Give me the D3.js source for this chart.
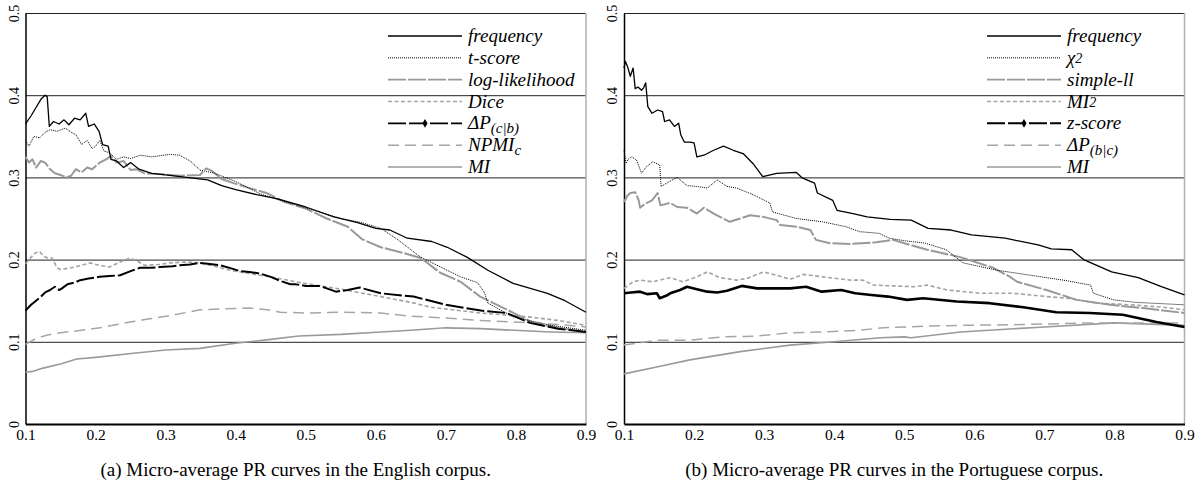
<!DOCTYPE html>
<html>
<head>
<meta charset="utf-8">
<script src="https://cdnjs.cloudflare.com/ajax/libs/d3/7.8.5/d3.min.js"></script>
<style>
  body { margin: 0; background: #fff; }
  svg { display: block; }
  text { font-family: "Liberation Serif", "Times New Roman", serif; fill: #000; }
</style>
</head>
<body>
<script>
// x tick values and y tick values
var recallTicks = [0.1, 0.2, 0.3, 0.4, 0.5, 0.6, 0.7, 0.8, 0.9];
var precisionTicks = [0, 0.1, 0.2, 0.3, 0.4, 0.5];

// (a) English corpus: [recall, precision]
var enFrequency = [[0.100,0.365],[0.108,0.375],[0.115,0.385],[0.122,0.395],[0.128,0.400],[0.131,0.398],[0.134,0.362],[0.140,0.368],[0.148,0.365],[0.155,0.370],[0.162,0.364],[0.170,0.372],[0.178,0.370],[0.186,0.378],[0.190,0.362],[0.198,0.365],[0.205,0.356],[0.210,0.340],[0.218,0.338],[0.222,0.322],[0.230,0.320],[0.240,0.312],[0.250,0.318],[0.262,0.310],[0.280,0.305],[0.300,0.303],[0.330,0.300],[0.360,0.297],[0.380,0.290],[0.400,0.285],[0.430,0.279],[0.460,0.274],[0.500,0.264],[0.540,0.252],[0.574,0.245],[0.600,0.238],[0.620,0.236],[0.645,0.226],[0.680,0.222],[0.702,0.215],[0.730,0.203],[0.760,0.187],[0.796,0.171],[0.845,0.159],[0.870,0.150],[0.900,0.136]];
var enTscore = [[0.100,0.345],[0.105,0.338],[0.112,0.350],[0.120,0.348],[0.128,0.355],[0.135,0.358],[0.145,0.356],[0.157,0.360],[0.165,0.355],[0.172,0.352],[0.180,0.340],[0.188,0.345],[0.195,0.335],[0.200,0.338],[0.206,0.345],[0.212,0.332],[0.220,0.330],[0.230,0.322],[0.240,0.325],[0.250,0.323],[0.264,0.327],[0.280,0.325],[0.306,0.328],[0.320,0.327],[0.335,0.320],[0.349,0.309],[0.370,0.305],[0.400,0.295],[0.435,0.280],[0.464,0.272],[0.500,0.263],[0.550,0.250],[0.580,0.245],[0.607,0.238],[0.630,0.225],[0.664,0.203],[0.690,0.192],[0.721,0.179],[0.745,0.172],[0.755,0.160],[0.760,0.147],[0.797,0.130],[0.850,0.120],[0.900,0.114]];
var enLogLik = [[0.100,0.325],[0.105,0.318],[0.110,0.322],[0.115,0.312],[0.122,0.320],[0.128,0.318],[0.135,0.310],[0.142,0.305],[0.150,0.303],[0.158,0.300],[0.165,0.302],[0.172,0.310],[0.180,0.306],[0.188,0.312],[0.195,0.310],[0.206,0.318],[0.215,0.322],[0.222,0.326],[0.230,0.318],[0.240,0.320],[0.250,0.309],[0.258,0.310],[0.270,0.305],[0.290,0.304],[0.320,0.302],[0.349,0.303],[0.358,0.311],[0.366,0.308],[0.380,0.298],[0.397,0.293],[0.420,0.287],[0.444,0.281],[0.470,0.270],[0.500,0.262],[0.530,0.250],[0.560,0.240],[0.580,0.225],[0.607,0.215],[0.640,0.208],[0.664,0.202],[0.692,0.184],[0.721,0.173],[0.749,0.155],[0.768,0.147],[0.797,0.135],[0.825,0.123],[0.860,0.117],[0.900,0.112]];
var enDice = [[0.100,0.195],[0.108,0.203],[0.114,0.208],[0.120,0.210],[0.126,0.204],[0.132,0.202],[0.138,0.202],[0.145,0.190],[0.150,0.188],[0.165,0.190],[0.180,0.193],[0.192,0.196],[0.205,0.193],[0.220,0.191],[0.235,0.197],[0.249,0.202],[0.260,0.198],[0.270,0.193],[0.290,0.194],[0.306,0.196],[0.330,0.197],[0.349,0.196],[0.370,0.192],[0.392,0.187],[0.420,0.183],[0.449,0.179],[0.492,0.172],[0.521,0.168],[0.550,0.164],[0.607,0.155],[0.650,0.148],[0.679,0.142],[0.750,0.135],[0.821,0.130],[0.860,0.126],[0.900,0.120]];
var enDeltaP = [[0.100,0.138],[0.108,0.145],[0.115,0.150],[0.122,0.155],[0.128,0.160],[0.135,0.163],[0.142,0.167],[0.148,0.163],[0.152,0.165],[0.160,0.170],[0.170,0.172],[0.178,0.175],[0.190,0.177],[0.206,0.179],[0.220,0.180],[0.235,0.181],[0.250,0.186],[0.263,0.190],[0.280,0.190],[0.292,0.191],[0.310,0.192],[0.320,0.193],[0.335,0.194],[0.349,0.196],[0.360,0.195],[0.378,0.193],[0.395,0.189],[0.406,0.186],[0.420,0.185],[0.435,0.183],[0.450,0.179],[0.464,0.174],[0.478,0.170],[0.485,0.170],[0.500,0.168],[0.520,0.168],[0.530,0.165],[0.543,0.161],[0.560,0.163],[0.577,0.166],[0.607,0.159],[0.654,0.155],[0.700,0.145],[0.750,0.138],[0.787,0.135],[0.820,0.123],[0.860,0.116],[0.900,0.112]];
var enNpmi = [[0.100,0.097],[0.115,0.104],[0.130,0.108],[0.150,0.111],[0.180,0.114],[0.206,0.117],[0.230,0.121],[0.249,0.124],[0.270,0.127],[0.292,0.130],[0.320,0.134],[0.349,0.139],[0.380,0.140],[0.420,0.141],[0.445,0.139],[0.464,0.136],[0.500,0.135],[0.550,0.136],[0.607,0.135],[0.650,0.131],[0.679,0.130],[0.750,0.126],[0.821,0.123],[0.860,0.121],[0.900,0.118]];
var enMi = [[0.100,0.063],[0.110,0.064],[0.125,0.068],[0.150,0.073],[0.173,0.079],[0.200,0.081],[0.254,0.086],[0.300,0.090],[0.349,0.092],[0.397,0.098],[0.450,0.103],[0.490,0.107],[0.550,0.109],[0.607,0.112],[0.650,0.114],[0.700,0.117],[0.750,0.116],[0.797,0.114],[0.850,0.112],[0.900,0.111]];

// (b) Portuguese corpus
var ptFrequency = [[0.100,0.433],[0.102,0.441],[0.105,0.435],[0.109,0.423],[0.113,0.433],[0.116,0.408],[0.120,0.410],[0.125,0.406],[0.128,0.409],[0.131,0.415],[0.134,0.386],[0.140,0.378],[0.148,0.382],[0.155,0.380],[0.158,0.368],[0.165,0.370],[0.172,0.362],[0.178,0.366],[0.181,0.352],[0.186,0.343],[0.194,0.343],[0.200,0.342],[0.204,0.325],[0.214,0.327],[0.228,0.333],[0.242,0.338],[0.256,0.333],[0.270,0.329],[0.284,0.317],[0.298,0.301],[0.318,0.305],[0.346,0.306],[0.355,0.299],[0.372,0.293],[0.376,0.281],[0.398,0.272],[0.404,0.260],[0.427,0.256],[0.447,0.252],[0.480,0.249],[0.510,0.248],[0.534,0.238],[0.567,0.236],[0.596,0.230],[0.644,0.226],[0.691,0.218],[0.710,0.213],[0.739,0.212],[0.756,0.200],[0.796,0.185],[0.834,0.178],[0.867,0.167],[0.900,0.157]];
var ptChi2 = [[0.100,0.333],[0.103,0.317],[0.106,0.322],[0.111,0.325],[0.118,0.321],[0.125,0.305],[0.132,0.313],[0.141,0.319],[0.151,0.315],[0.153,0.289],[0.165,0.295],[0.176,0.300],[0.190,0.290],[0.204,0.289],[0.219,0.287],[0.233,0.297],[0.247,0.289],[0.261,0.287],[0.284,0.279],[0.308,0.269],[0.312,0.258],[0.346,0.250],[0.383,0.246],[0.417,0.240],[0.436,0.234],[0.464,0.232],[0.479,0.226],[0.500,0.223],[0.530,0.220],[0.560,0.212],[0.584,0.196],[0.633,0.187],[0.680,0.181],[0.727,0.175],[0.766,0.169],[0.770,0.159],[0.799,0.151],[0.830,0.148],[0.900,0.145]];
var ptSimpleLl = [[0.100,0.270],[0.105,0.278],[0.109,0.281],[0.116,0.282],[0.121,0.272],[0.123,0.263],[0.130,0.268],[0.140,0.272],[0.148,0.281],[0.152,0.266],[0.166,0.269],[0.176,0.264],[0.190,0.263],[0.204,0.256],[0.214,0.263],[0.228,0.256],[0.237,0.252],[0.251,0.246],[0.266,0.250],[0.280,0.254],[0.299,0.252],[0.318,0.248],[0.323,0.242],[0.346,0.240],[0.366,0.236],[0.374,0.224],[0.394,0.220],[0.423,0.219],[0.460,0.221],[0.484,0.224],[0.520,0.215],[0.533,0.212],[0.580,0.203],[0.627,0.190],[0.651,0.179],[0.661,0.173],[0.703,0.163],[0.746,0.151],[0.794,0.145],[0.841,0.141],[0.900,0.135]];
var ptMi2 = [[0.100,0.165],[0.113,0.173],[0.123,0.175],[0.141,0.173],[0.166,0.178],[0.184,0.173],[0.204,0.179],[0.219,0.185],[0.237,0.178],[0.261,0.175],[0.275,0.177],[0.299,0.185],[0.318,0.181],[0.337,0.176],[0.356,0.182],[0.384,0.179],[0.423,0.175],[0.441,0.175],[0.456,0.169],[0.484,0.168],[0.513,0.167],[0.533,0.169],[0.561,0.163],[0.609,0.159],[0.656,0.159],[0.704,0.155],[0.733,0.153],[0.776,0.147],[0.823,0.145],[0.870,0.142],[0.900,0.139]];
var ptZscore = [[0.100,0.159],[0.110,0.160],[0.123,0.161],[0.133,0.158],[0.147,0.159],[0.151,0.153],[0.160,0.156],[0.166,0.159],[0.180,0.163],[0.190,0.167],[0.204,0.164],[0.219,0.161],[0.233,0.160],[0.247,0.162],[0.268,0.168],[0.290,0.165],[0.313,0.165],[0.337,0.165],[0.360,0.167],[0.382,0.161],[0.410,0.163],[0.430,0.159],[0.453,0.157],[0.477,0.155],[0.504,0.151],[0.527,0.153],[0.575,0.149],[0.622,0.147],[0.670,0.142],[0.717,0.136],[0.765,0.135],[0.812,0.133],[0.860,0.124],[0.900,0.118]];
var ptDeltaP = [[0.100,0.096],[0.147,0.102],[0.194,0.102],[0.241,0.106],[0.290,0.107],[0.337,0.111],[0.384,0.112],[0.433,0.114],[0.470,0.117],[0.527,0.119],[0.580,0.120],[0.670,0.121],[0.765,0.123],[0.900,0.123]];
var ptMi = [[0.100,0.061],[0.150,0.070],[0.194,0.078],[0.266,0.088],[0.337,0.096],[0.400,0.100],[0.466,0.105],[0.500,0.106],[0.510,0.105],[0.580,0.112],[0.700,0.118],[0.800,0.123],[0.900,0.120]];

// legend labels: [text, "sub"/"sup"/""] parts
var enLabels = [[["frequency",""]], [["t-score",""]], [["log-likelihood",""]], [["Dice",""]],
  [["\u0394P",""],["(c|b)","sub"]], [["NPMI",""],["c","sub"]], [["MI",""]]];
var ptLabels = [[["frequency",""]], [["\u03c7",""],["2","sup"]], [["simple-ll",""]], [["MI",""],["2","sup"]],
  [["z-score",""]], [["\u0394P",""],["(b|c)","sub"]], [["MI",""]]];

var captions = ["(a) Micro-average PR curves in the English corpus.",
                "(b) Micro-average PR curves in the Portuguese corpus."];

// line styles
var sFreq   = {color: "#000", width: 1.3, dash: null};
var sDot    = {color: "#000", width: 1, dash: "1,1"};
var sLong   = {color: "#999", width: 2, dash: "18,2"};
var sShort  = {color: "#a3a3a3", width: 1.6, dash: "4,2.5"};
var sMarked = {color: "#000", width: 2, dash: "18,3", marker: true};
var sDashG  = {color: "#a6a6a6", width: 1.5, dash: "11,6"};
var sMi     = {color: "#9a9a9a", width: 1.6, dash: null};
var sZ      = {color: "#000", width: 2.6, dash: null, marker: true, legendDash: "18,3", legendWidth: 2};

var svg = d3.select("body").append("svg")
  .attr("width", 1202).attr("height", 486);

function drawPanel(left, seriesData, styles, labels, caption, legendX) {
  var w = 560.5, h = 411;
  var x = d3.scaleLinear().domain([0.1, 0.9]).range([0, w]);
  var y = d3.scaleLinear().domain([0, 0.5]).range([h, 0]);
  var g = svg.append("g").attr("transform", "translate(" + left + ",13)");

  // grid lines
  g.append("g")
    .call(d3.axisLeft(y).tickValues(precisionTicks.slice(1)).tickSize(-w).tickFormat(""))
    .call(function (s) { s.select(".domain").remove(); })
    .selectAll("line").attr("stroke", "#222").attr("stroke-width", 1);

  // right border
  g.append("line").attr("x1", w).attr("x2", w).attr("y1", 0).attr("y2", h)
    .attr("stroke", "#b0b0b0").attr("stroke-width", 1.5);

  // y axis with rotated labels
  var ya = g.append("g")
    .call(d3.axisLeft(y).tickValues(precisionTicks).tickSize(0).tickFormat(function (d) { return d === 0 ? "0" : d3.format(".1f")(d); }));
  ya.select(".domain").attr("stroke", "#000").attr("stroke-width", 1.5);
  ya.selectAll("text")
    .attr("x", null).attr("dy", null)
    .attr("transform", "translate(-7,0) rotate(-90)")
    .attr("text-anchor", "middle")
    .style("font-size", "14px").style("font-family", "Liberation Serif, serif");

  // x axis
  var xa = g.append("g").attr("transform", "translate(0," + h + ")")
    .call(d3.axisBottom(x).tickValues(recallTicks).tickSize(0).tickPadding(5).tickFormat(d3.format(".1f")));
  xa.select(".domain").attr("stroke", "#000").attr("stroke-width", 2.2);
  xa.selectAll("text").style("font-size", "15.5px").style("font-family", "Liberation Serif, serif");

  // curves
  var line = d3.line().x(function (d) { return x(d[0]); }).y(function (d) { return y(d[1]); });
  var order = [6, 5, 3, 2, 1, 4, 0];
  order.forEach(function (i) {
    var st = styles[i];
    g.append("path").datum(seriesData[i])
      .attr("d", line)
      .attr("fill", "none")
      .attr("stroke", st.color)
      .attr("stroke-width", st.width)
      .attr("stroke-linejoin", "round")
      .attr("stroke-dasharray", st.dash);
  });

  // legend
  var lg = g.append("g").attr("transform", "translate(" + (legendX - left) + ",0)");
  var rowY = d3.scalePoint().domain(d3.range(7)).range([23, 154]);
  labels.forEach(function (lab, i) {
    var st = styles[i];
    var ry = rowY(i);
    lg.append("line").attr("x1", 0).attr("x2", 74).attr("y1", ry).attr("y2", ry)
      .attr("stroke", st.color)
      .attr("stroke-width", st.legendWidth || Math.min(st.width, 1.6))
      .attr("stroke-dasharray", st.legendDash || st.dash);
    if (st.marker) {
      lg.append("path").attr("d", d3.symbol(d3.symbolDiamond, 22))
        .attr("transform", "translate(37," + ry + ")").attr("fill", "#000");
    }
    var t = lg.append("text").attr("x", 80).attr("y", ry + 6)
      .style("font-style", "italic").style("font-size", "19px");
    lab.forEach(function (p) {
      var ts = t.append("tspan").text(p[0]);
      if (p[1] === "sub") ts.style("font-size", "15px").attr("baseline-shift", "-4");
      if (p[1] === "sup") ts.style("font-size", "14px").attr("baseline-shift", "1");
    });
  });

  // caption
  g.append("text").attr("x", w / 2 - 10).attr("y", 463)
    .attr("text-anchor", "middle").style("font-size", "19px").text(caption);
}

drawPanel(25.5, [enFrequency, enTscore, enLogLik, enDice, enDeltaP, enNpmi, enMi],
  [sFreq, sDot, sLong, sShort, sMarked, sDashG, sMi], enLabels, captions[0], 388);
drawPanel(624, [ptFrequency, ptChi2, ptSimpleLl, ptMi2, ptZscore, ptDeltaP, ptMi],
  [sFreq, sDot, sLong, sShort, sZ, sDashG, sMi], ptLabels, captions[1], 987);
</script>
</body>
</html>
